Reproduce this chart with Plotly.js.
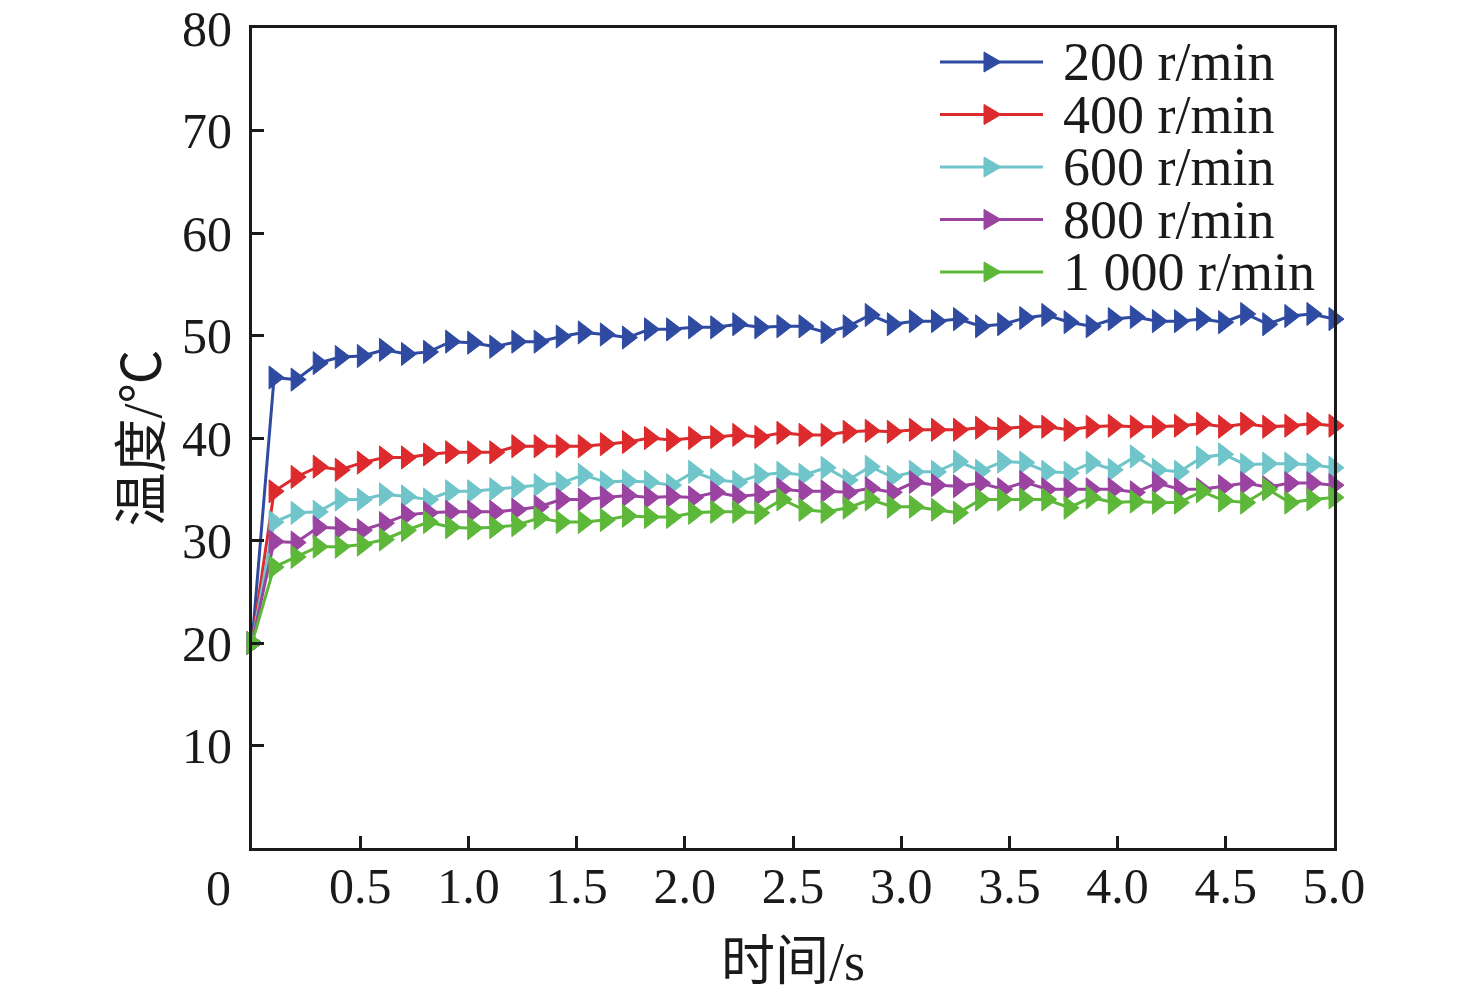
<!DOCTYPE html>
<html>
<head>
<meta charset="utf-8">
<script src="https://cdn.plot.ly/plotly-3.0.1.min.js"></script>
<style>
  html, body { margin: 0; padding: 0; background: #fff; }
  #plot { width: 1476px; height: 995px; }
</style>
</head>
<body>
<div id="plot"></div>
<script>
// time axis, s (50 samples)
var time = [0, 0.102, 0.204, 0.306, 0.408, 0.510, 0.612, 0.714, 0.816, 0.918,
            1.020, 1.122, 1.224, 1.327, 1.429, 1.531, 1.633, 1.735, 1.837, 1.939,
            2.041, 2.143, 2.245, 2.347, 2.449, 2.551, 2.653, 2.755, 2.857, 2.959,
            3.061, 3.163, 3.265, 3.367, 3.469, 3.571, 3.673, 3.776, 3.878, 3.980,
            4.082, 4.184, 4.286, 4.388, 4.490, 4.592, 4.694, 4.796, 4.898, 5.000];

// temperature, deg C
var t200 = [20, 45.9, 45.7, 47.3, 47.9, 48.0, 48.6, 48.2, 48.4, 49.4,
            49.3, 48.9, 49.4, 49.4, 49.9, 50.3, 50.1, 49.8, 50.6, 50.6,
            50.8, 50.8, 51.1, 50.8, 50.9, 50.9, 50.3, 50.9, 52.0, 51.1,
            51.4, 51.4, 51.6, 50.9, 51.1, 51.7, 52.0, 51.3, 50.9, 51.6,
            51.8, 51.4, 51.4, 51.6, 51.3, 52.1, 51.1, 51.9, 52.1, 51.6];
var t400 = [20, 34.8, 36.2, 37.2, 36.9, 37.6, 38.1, 38.1, 38.4, 38.6,
            38.6, 38.6, 39.2, 39.2, 39.2, 39.2, 39.4, 39.6, 40.0, 39.8,
            40.0, 40.1, 40.3, 40.1, 40.5, 40.3, 40.3, 40.6, 40.7, 40.6,
            40.8, 40.8, 40.8, 41.0, 40.9, 41.1, 41.1, 40.8, 41.1, 41.2,
            41.1, 41.1, 41.2, 41.4, 41.1, 41.4, 41.1, 41.2, 41.4, 41.2];
var t600 = [20, 31.8, 32.7, 32.8, 34.0, 34.0, 34.5, 34.3, 34.0, 34.8,
            34.8, 35.0, 35.2, 35.4, 35.6, 36.4, 35.7, 35.8, 35.7, 35.4,
            36.7, 35.9, 35.7, 36.4, 36.6, 36.4, 37.1, 35.9, 37.2, 36.2,
            36.7, 36.7, 37.7, 36.8, 37.7, 37.6, 36.7, 36.6, 37.6, 36.9,
            38.2, 36.9, 36.7, 38.1, 38.4, 37.4, 37.5, 37.5, 37.4, 37.1];
var t800 = [20, 29.9, 29.8, 31.3, 31.2, 31.0, 31.7, 32.5, 32.7, 32.8,
            32.8, 32.8, 33.0, 33.3, 34.0, 34.0, 34.2, 34.4, 34.2, 34.3,
            34.2, 34.7, 34.3, 34.5, 35.0, 34.8, 34.8, 34.7, 35.1, 34.7,
            35.7, 35.4, 35.3, 35.6, 35.0, 35.7, 35.0, 35.0, 35.0, 35.0,
            34.7, 35.6, 35.0, 35.0, 35.3, 35.6, 35.2, 35.6, 35.6, 35.4];
var t1000 = [20, 27.4, 28.4, 29.4, 29.4, 29.6, 30.1, 31.0, 31.8, 31.3,
             31.2, 31.3, 31.5, 32.2, 31.8, 31.8, 32.0, 32.4, 32.3, 32.3,
             32.7, 32.8, 32.8, 32.7, 34.0, 33.0, 32.8, 33.2, 34.0, 33.3,
             33.3, 33.0, 32.7, 34.0, 34.0, 34.0, 34.0, 33.2, 34.2, 33.7,
             33.8, 33.7, 33.7, 34.8, 33.9, 33.7, 35.0, 33.7, 34.0, 34.2];

var names = ["200 r/min", "400 r/min", "600 r/min", "800 r/min", "1 000 r/min"];
var colors = ["#2f4ba1", "#dd2a2c", "#6fc5c9", "#9a43a0", "#5db83a"];
var series = [t200, t400, t600, t800, t1000];

var xTicks = [0.5, 1.0, 1.5, 2.0, 2.5, 3.0, 3.5, 4.0, 4.5, 5.0];
var xTickText = ["0.5", "1.0", "1.5", "2.0", "2.5", "3.0", "3.5", "4.0", "4.5", "5.0"];
var yTicks = [10, 20, 30, 40, 50, 60, 70, 80];

var serif = "Liberation Serif, Times New Roman, Noto Sans CJK SC, serif";

var data = [];
for (var i = 0; i < series.length; i++) {
    data.push({
        x: time,
        y: series[i],
        name: names[i],
        type: "scatter",
        mode: "lines+markers",
        line: { color: colors[i], width: 3 },
        marker: { symbol: "triangle-right", size: 20, color: colors[i],
                  line: { color: colors[i], width: 1 } },
        cliponaxis: false,
        showlegend: false
    });
}

// hand-made legend in the top right corner (pixel offsets from the plot corner)
var shapes = [];
var annotations = [];
for (var j = 0; j < names.length; j++) {
    var yOff = -34 - j * 52.5;
    shapes.push({
        type: "line", xref: "paper", yref: "paper",
        xsizemode: "pixel", ysizemode: "pixel", xanchor: 1, yanchor: 1,
        x0: -394, x1: -291, y0: yOff, y1: yOff,
        line: { color: colors[j], width: 3 }
    });
    shapes.push({
        type: "path", xref: "paper", yref: "paper",
        xsizemode: "pixel", ysizemode: "pixel", xanchor: 1, yanchor: 1,
        path: "M-350," + (yOff + 10) + " L-333," + yOff + " L-350," + (yOff - 10) + " Z",
        fillcolor: colors[j], line: { color: colors[j], width: 1 }
    });
    annotations.push({
        xref: "paper", yref: "paper", x: 1, y: 1,
        xanchor: "left", yanchor: "middle",
        xshift: -273, yshift: yOff,
        text: names[j], showarrow: false,
        font: { family: serif, size: 54, color: "#1a1a1a" }
    });
}
// origin label sits left of the y axis
annotations.push({
    xref: "x", yref: "paper", x: 0, y: 0,
    xanchor: "center", yanchor: "top",
    xshift: -34, yshift: -10,
    text: "0", showarrow: false,
    font: { family: serif, size: 50, color: "#1a1a1a" }
});

var layout = {
    width: 1476,
    height: 995,
    margin: { l: 252, r: 142, t: 28, b: 147 },
    paper_bgcolor: "#ffffff",
    plot_bgcolor: "#ffffff",
    font: { family: serif, color: "#1a1a1a" },
    showlegend: false,
    xaxis: {
        range: [0, 5],
        tickvals: xTicks,
        ticktext: xTickText,
        ticks: "inside",
        ticklen: 12,
        tickwidth: 3,
        tickcolor: "#1a1a1a",
        showline: true,
        linewidth: 3,
        linecolor: "#1a1a1a",
        mirror: true,
        showgrid: false,
        zeroline: false,
        ticklabelstandoff: -8,
        tickfont: { family: serif, size: 50, color: "#1a1a1a" },
        title: { text: "时间/s", standoff: 30,
                 font: { family: serif, size: 54, color: "#1a1a1a" } }
    },
    yaxis: {
        range: [0, 80],
        tickvals: yTicks,
        ticks: "inside",
        ticklen: 12,
        tickwidth: 3,
        tickcolor: "#1a1a1a",
        showline: true,
        linewidth: 3,
        linecolor: "#1a1a1a",
        mirror: true,
        showgrid: false,
        zeroline: false,
        ticklabelstandoff: 7,
        tickfont: { family: serif, size: 50, color: "#1a1a1a" },
        title: { text: "温度/℃", standoff: 4,
                 font: { family: serif, size: 54, color: "#1a1a1a" } }
    },
    shapes: shapes,
    annotations: annotations
};

Plotly.newPlot("plot", data, layout, { staticPlot: true });
</script>
</body>
</html>
